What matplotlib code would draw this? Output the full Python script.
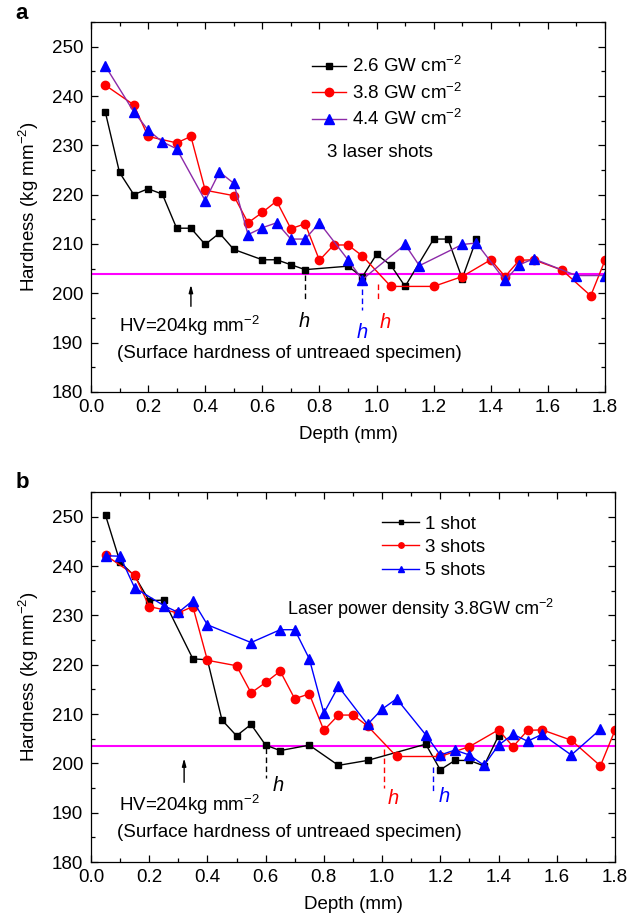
import matplotlib
matplotlib.use("Agg")
import matplotlib.pyplot as plt
from matplotlib.ticker import MultipleLocator, FormatStrFormatter

plt.rcParams['font.family'] = ['Liberation Sans', 'DejaVu Sans']
plt.rcParams['mathtext.fontset'] = 'custom'
plt.rcParams['mathtext.rm'] = 'Liberation Sans'
plt.rcParams['mathtext.it'] = 'Liberation Sans:italic'
plt.rcParams['mathtext.default'] = 'regular'

# panel a: 3 laser shots, different power densities
a_x_26 = [0.05, 0.1, 0.15, 0.2, 0.25, 0.3, 0.35, 0.4, 0.45, 0.5, 0.6, 0.65, 0.7, 0.75,
          0.9, 0.95, 1.0, 1.05, 1.1, 1.2, 1.25, 1.3, 1.35]
a_y_26 = [236.8, 224.5, 220.0, 221.2, 220.1, 213.2, 213.2, 209.9, 212.2, 208.9, 206.8, 206.8,
          205.8, 204.8, 205.5, 203.3, 207.9, 205.7, 201.4, 211.0, 211.0, 203.0, 211.0]

x_38 = [0.05, 0.15, 0.2, 0.3, 0.35, 0.4, 0.5, 0.55, 0.6, 0.65, 0.7, 0.75, 0.8, 0.85, 0.9,
        0.95, 1.05, 1.2, 1.3, 1.4, 1.45, 1.5, 1.55, 1.65, 1.75, 1.8]
y_38 = [242.2, 238.2, 231.8, 230.5, 231.8, 220.9, 219.8, 214.3, 216.4, 218.7, 213.1, 214.1,
        206.7, 209.8, 209.8, 207.6, 201.4, 201.4, 203.4, 206.8, 203.4, 206.7, 206.8, 204.7,
        199.5, 206.7]

a_x_44 = [0.05, 0.15, 0.2, 0.25, 0.3, 0.4, 0.45, 0.5, 0.55, 0.6, 0.65, 0.7, 0.75, 0.8, 0.9,
          0.95, 1.1, 1.15, 1.3, 1.35, 1.45, 1.5, 1.55, 1.7, 1.8]
a_y_44 = [246.1, 236.8, 233.1, 230.7, 229.3, 218.8, 224.6, 222.3, 211.9, 213.3, 214.3, 211.0,
          211.0, 214.3, 206.8, 202.8, 209.9, 205.6, 209.9, 210.2, 202.6, 205.8, 207.0, 203.6,
          203.6]

# panel b: 3.8 GW cm-2, different shot numbers (3 shots = x_38 / y_38)
b_x_1 = [0.05, 0.1, 0.15, 0.2, 0.25, 0.35, 0.4, 0.45, 0.5, 0.55, 0.6, 0.65, 0.75, 0.85, 0.95,
         1.15, 1.2, 1.25, 1.3, 1.35, 1.4]
b_y_1 = [250.3, 240.8, 238.0, 233.0, 233.1, 221.2, 221.0, 208.8, 205.6, 207.9, 203.7, 202.6,
         203.7, 199.6, 200.6, 203.9, 198.7, 200.6, 200.6, 199.5, 205.6]

b_x_5 = [0.05, 0.1, 0.15, 0.25, 0.3, 0.35, 0.4, 0.55, 0.65, 0.7, 0.75, 0.8, 0.85, 0.95, 1.0,
         1.05, 1.15, 1.2, 1.25, 1.3, 1.35, 1.4, 1.45, 1.5, 1.55, 1.65, 1.75]
b_y_5 = [242.1, 242.0, 235.6, 232.0, 230.6, 233.0, 228.1, 224.5, 227.1, 227.1, 221.2, 210.2,
         215.6, 207.9, 211.0, 213.1, 205.8, 201.7, 202.7, 201.7, 199.6, 203.7, 205.9, 204.5,
         205.9, 201.7, 206.9]

hv_a = 204.0
hv_b = 203.6

FS = 13.5
MAG = '#ff00ff'
PURPLE = '#8c2aa8'


def style_axes(ax):
    ax.set_xlim(0, 1.8)
    ax.set_ylim(180, 255)
    ax.xaxis.set_major_locator(MultipleLocator(0.2))
    ax.xaxis.set_minor_locator(MultipleLocator(0.1))
    ax.xaxis.set_major_formatter(FormatStrFormatter('%.1f'))
    ax.yaxis.set_major_locator(MultipleLocator(10))
    ax.yaxis.set_minor_locator(MultipleLocator(5))
    ax.tick_params(which='both', direction='in', top=True, right=True, width=0.9,
                   labelsize=FS)
    ax.tick_params(axis='x', pad=5)
    ax.tick_params(axis='y', pad=5.5)
    ax.tick_params(which='major', length=5)
    ax.tick_params(which='minor', length=3)
    for s in ax.spines.values():
        s.set_linewidth(0.9)
    ax.set_xlabel('Depth (mm)', fontsize=FS, labelpad=7)
    ax.set_ylabel('Hardness (kg mm$^{-2}$)', fontsize=FS, labelpad=8)


def hv_note(ax, arrow_x, y0, y1, ty):
    ax.annotate('', xy=(arrow_x, y1), xytext=(arrow_x, y0),
                arrowprops=dict(arrowstyle='-|>,head_width=0.12,head_length=0.45',
                                color='k', lw=1.0))
    ax.text(0.098, ty, 'HV=204kg mm$^{-2}$', fontsize=FS, va='center', ha='left')
    ax.text(0.09, ty - 5.6, '(Surface hardness of untreaed specimen)', fontsize=FS,
            va='center', ha='left')


def h_mark(ax, x, y0, y1, tx, ty, color):
    ax.plot([x, x], [y0, y1], color=color, lw=1.0, ls=(0, (4, 2.5)))
    ax.text(tx, ty, 'h', color=color, fontsize=FS + 1, style='italic', ha='center',
            va='center')


fig = plt.figure(figsize=(6.3, 9.21), dpi=100)

# ---- panel a
ax = fig.add_axes([0.1444, 0.5744, 0.8159, 0.4017])
ax.axhline(hv_a, color=MAG, lw=1.5, zorder=1)
ax.plot(a_x_26, a_y_26, '-s', color='k', ms=5, lw=1.0, label='2.6 GW cm$^{-2}$')
ax.plot(x_38, y_38, '-o', color='red', ms=6, lw=1.0, label='3.8 GW cm$^{-2}$')
ax.plot(a_x_44, a_y_44, '-^', color=PURPLE, mfc='blue', mec='blue', ms=6.5, lw=1.0,
        label='4.4 GW cm$^{-2}$')
style_axes(ax)
ax.legend(loc='upper left', bbox_to_anchor=(0.43, 0.908), frameon=False, fontsize=FS,
          handlelength=1.8, handletextpad=0.35, labelspacing=0.35, borderaxespad=0,
          borderpad=0, numpoints=1)
ax.text(0.825, 228.6, '3 laser shots', fontsize=FS, va='center', ha='left')
hv_note(ax, 0.35, 196.8, 202.3, 193.3)
h_mark(ax, 0.75, 203.8, 198.6, 0.748, 194.3, 'k')
h_mark(ax, 0.95, 202.8, 196.6, 0.95, 192.0, 'blue')
h_mark(ax, 1.005, 201.9, 198.3, 1.03, 194.0, 'red')
fig.text(0.025, 0.985, 'a', fontsize=16, fontweight='bold', va='center')

# ---- panel b
ax = fig.add_axes([0.1444, 0.0640, 0.8317, 0.4017])
ax.axhline(hv_b, color=MAG, lw=1.5, zorder=1)
ax.plot(b_x_1, b_y_1, '-s', color='k', ms=5, lw=1.0, label='1 shot')
ax.plot(x_38, y_38, '-o', color='red', ms=6, lw=1.0, label='3 shots')
ax.plot(b_x_5, b_y_5, '-^', color='blue', ms=6.5, lw=1.0, label='5 shots')
style_axes(ax)
ax.legend(loc='upper left', bbox_to_anchor=(0.555, 0.937), frameon=False, fontsize=FS,
          handlelength=2.0, handletextpad=0.3, labelspacing=0.33, borderaxespad=0,
          borderpad=0, numpoints=1, markerscale=0.65)
ax.text(0.675, 231.3, 'Laser power density 3.8GW cm$^{-2}$', fontsize=FS - 0.5,
        va='center', ha='left')
hv_note(ax, 0.32, 195.6, 201.6, 191.5)
h_mark(ax, 0.6, 203.2, 197.0, 0.642, 195.6, 'k')
h_mark(ax, 1.005, 203.0, 195.0, 1.037, 192.9, 'red')
h_mark(ax, 1.175, 199.2, 194.0, 1.213, 193.2, 'blue')
fig.text(0.025, 0.4756, 'b', fontsize=16, fontweight='bold', va='center')

fig.savefig('out.png', dpi=100)
